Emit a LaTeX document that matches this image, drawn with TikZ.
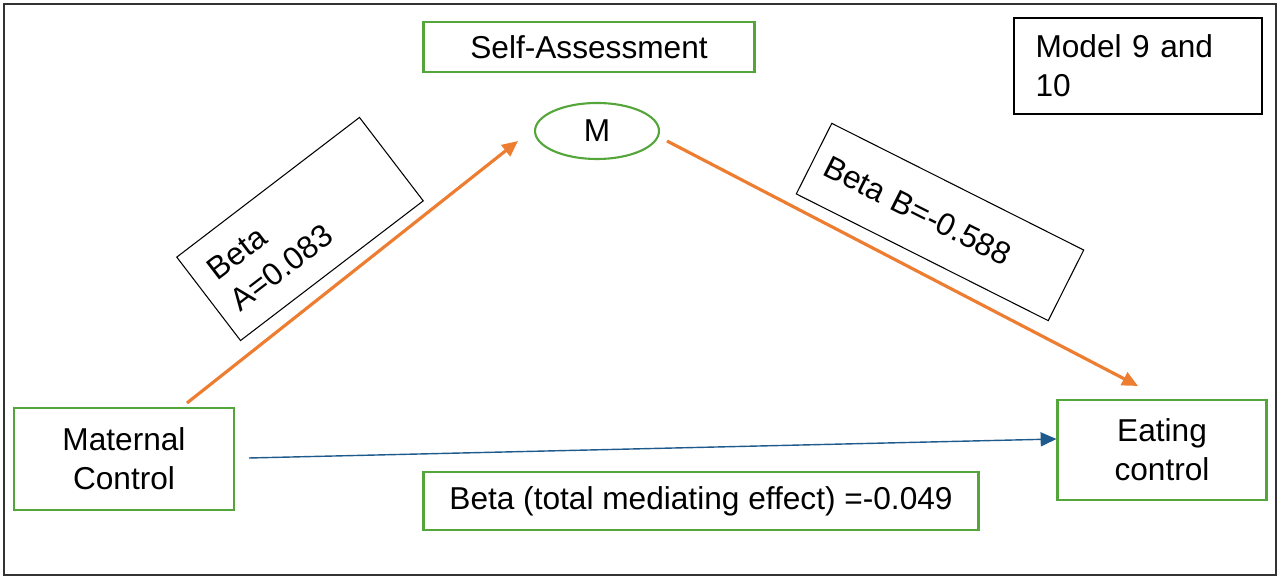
\documentclass[tikz,border=0pt]{standalone}
\usepackage{fontspec}
\setmainfont{Liberation Sans}
\usetikzlibrary{arrows.meta, shapes.geometric}
\definecolor{boxgreen}{RGB}{84,166,58}
\definecolor{pathorange}{RGB}{237,125,49}
\definecolor{pathblue}{RGB}{31,90,140}
\tikzset{
  gbox/.style={draw=boxgreen, line width=1.2pt, minimum width=#1, minimum height=1cm, align=center, inner sep=2pt},
  tbox/.style={draw=black, line width=0.6pt, align=left},
  opath/.style={pathorange, line width=1.8pt, -{Triangle[length=9pt,width=8pt]}},
}
\begin{document}
\begin{tikzpicture}[font=\fontsize{18}{22}\selectfont]
\useasboundingbox (0,0) rectangle (25.6,11.58);
\draw[black!80, line width=0.6pt] (0.08,0.08) rectangle (25.52,11.5);
% nodes
\node[gbox=6.62cm] (self) at (11.78,10.64) {Self-Assessment};
\node[draw=boxgreen, line width=1.2pt, ellipse, minimum width=2.48cm, minimum height=1.12cm] (m) at (11.94,8.96) {M};
\node[tbox, minimum width=4.96cm, minimum height=1.92cm, text width=4.1cm, anchor=center] (model) at (22.76,10.26) {Model 9 and\\10};
\node[gbox=4.4cm, minimum height=2.04cm] (mat) at (2.48,2.4) {Maternal\\Control};
\node[gbox=4.18cm, minimum height=2cm] (eat) at (23.24,2.58) {Eating\\control};
\node[gbox=11.1cm, minimum height=1.16cm] (total) at (14.02,1.56) {Beta (total mediating effect) =-0.049};
\node[tbox, rotate=37.4, minimum width=4.6cm, minimum height=2.1cm, text width=3.9cm] (betaa) at (6.0,7.0) {Beta\\A=0.083};
\node[tbox, rotate=-26.7, minimum width=5.64cm, minimum height=1.58cm, text width=5.1cm] (betab) at (18.8,7.14) {Beta B=-0.588};
% connectors
\coordinate (a1) at (3.74,3.52);
\coordinate (a2) at (10.36,8.76);
\coordinate (b1) at (13.34,8.76);
\coordinate (b2) at (22.76,3.86);
\coordinate (c1) at (4.98,2.42);
\draw[opath] (a1) -- (a2);
\draw[opath] (b1) -- (b2);
\draw[pathblue, line width=0.8pt, -{Triangle[length=9pt,width=8pt]}] (c1) -- (eat.west |- 0,2.8);
\end{tikzpicture}
\end{document}
